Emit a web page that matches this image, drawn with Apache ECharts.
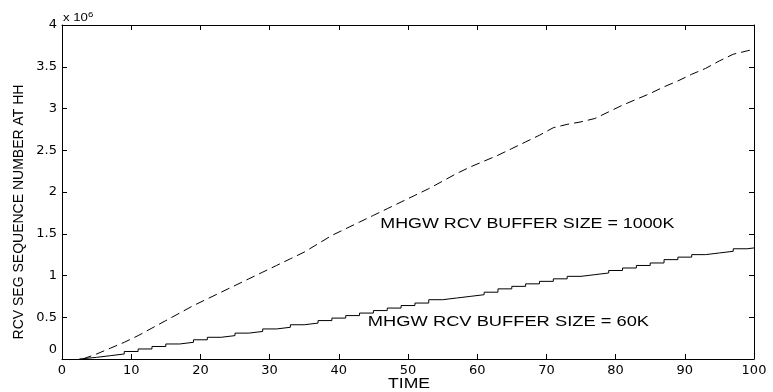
<!DOCTYPE html>
<html>
<head>
<meta charset="utf-8">
<script src="https://cdn.jsdelivr.net/npm/echarts@6/dist/echarts.min.js"></script>
<style>html,body{margin:0;padding:0;background:#fff}#c{width:773px;height:392px}</style>
</head>
<body>
<div id="c"></div>
<script>
// Time values (x) and sequence numbers (in units of 1e6)
const time1000K = [3,5,7,9,11,13,15,17,19,21,23,25,27,29,31,33,35,37,39,41,43,45,47,49,51,53,55,57,59,61,63,65,67,69,71,73,75,77,79,81,83,85,87,89,91,93,95,97,99,100];
const seq1000K  = [0,0.06,0.13,0.2,0.28,0.37,0.46,0.55,0.64,0.72,0.8,0.88,0.96,1.04,1.12,1.2,1.28,1.38,1.48,1.56,1.64,1.72,1.8,1.88,1.96,2.04,2.13,2.22,2.3,2.37,2.44,2.52,2.6,2.68,2.77,2.81,2.84,2.88,2.96,3.04,3.11,3.18,3.26,3.33,3.41,3.48,3.57,3.65,3.69,3.71];
const time60K = [2.5,5,7,9,11,13,15,17,19,21,23,25,27,29,31,33,35,37,39,41,43,45,47,49,51,53,55,57,59,61,63,65,67,69,71,73,75,77,79,81,83,85,87,89,91,93,95,97,99,100];
const seq60K  = [0,0.02,0.04,0.06,0.09,0.12,0.15,0.18,0.2,0.23,0.26,0.28,0.31,0.33,0.36,0.38,0.41,0.43,0.46,0.49,0.52,0.55,0.58,0.61,0.64,0.67,0.71,0.73,0.75,0.77,0.8,0.84,0.87,0.9,0.93,0.96,0.99,1.01,1.03,1.06,1.09,1.12,1.15,1.19,1.22,1.25,1.27,1.29,1.32,1.33];
const xTicks = {min:0, max:100, interval:10};
const yTicks = {min:0, max:4, interval:0.5};
const label1000K = 'MHGW RCV BUFFER SIZE = 1000K';
const label60K = 'MHGW RCV BUFFER SIZE = 60K';
const yName = 'RCV SEG SEQUENCE NUMBER AT HH';
const xName = 'TIME';

const chart = echarts.init(document.getElementById('c'));
const FONT = 'Liberation Sans, Arial, sans-serif';
const axisCommon = {
  axisLine:{show:true, onZero:false, lineStyle:{color:'#000', width:1}},
  axisTick:{show:true, inside:true, length:5, lineStyle:{color:'#000', width:1}},
  splitLine:{show:false}
};
chart.setOption({
  animation:false,
  backgroundColor:'#fff',
  grid:{left:62, right:19, top:25, bottom:33},
  xAxis:[
    Object.assign({type:'value', position:'bottom', min:xTicks.min, max:xTicks.max, interval:xTicks.interval,
      axisLabel:{color:'#000', fontFamily:'DejaVu Sans', fontSize:13, margin:5}}, axisCommon),
    Object.assign({type:'value', position:'top', min:xTicks.min, max:xTicks.max, interval:xTicks.interval,
      axisLabel:{show:false}}, axisCommon)
  ],
  yAxis:[
    Object.assign({type:'value', position:'left', min:yTicks.min, max:yTicks.max, interval:yTicks.interval,
      axisLabel:{color:'#000', fontFamily:'DejaVu Sans', fontSize:13, margin:5,
        formatter:function(v){ return v===0 ? '{z|0}' : String(v); },
        rich:{z:{fontFamily:'DejaVu Sans', fontSize:13, color:'#000', padding:[0,0,18,0]}}}}, axisCommon),
    Object.assign({type:'value', position:'right', min:yTicks.min, max:yTicks.max, interval:yTicks.interval,
      axisLabel:{show:false}}, axisCommon)
  ],
  series:[
    {type:'line', symbol:'none', data:time1000K.map((t,i)=>[t,seq1000K[i]]),
     lineStyle:{color:'#000', width:1, type:[9,5]}},
    {type:'line', step:'start', symbol:'none', data:time60K.map((t,i)=>[t,seq60K[i]]),
     lineStyle:{color:'#000', width:1, type:'solid'}}
  ]
});

const p1 = chart.convertToPixel({xAxisIndex:0, yAxisIndex:0}, [46.0, 1.617]);
const p2 = chart.convertToPixel({xAxisIndex:0, yAxisIndex:0}, [44.2, 0.443]);
chart.setOption({
  graphic:[
    {type:'text', x:p1[0], y:p1[1], scaleX:1.19, style:{text:label1000K, font:'15px '+FONT, fill:'#000', verticalAlign:'middle', align:'left'}},
    {type:'text', x:p2[0], y:p2[1], scaleX:1.22, style:{text:label60K, font:'15px '+FONT, fill:'#000', verticalAlign:'middle', align:'left'}},
    {type:'text', x:409, y:384, scaleX:1.17, style:{text:xName, font:'15px '+FONT, fill:'#000', verticalAlign:'middle', align:'center'}},
    {type:'text', x:19, y:212, rotation:Math.PI/2, style:{text:yName, font:'14px '+FONT, fill:'#000', verticalAlign:'middle', align:'center'}},
    {type:'text', x:63, y:18, scaleX:1.2, style:{rich:{a:{font:'11px '+FONT, fill:'#000'}, s:{font:'8px '+FONT, fill:'#000', verticalAlign:'top', padding:[0,0,6,0]}}, text:'{a|x 10}{s|6}', verticalAlign:'middle', align:'left'}}
  ]
});
</script>
</body>
</html>
